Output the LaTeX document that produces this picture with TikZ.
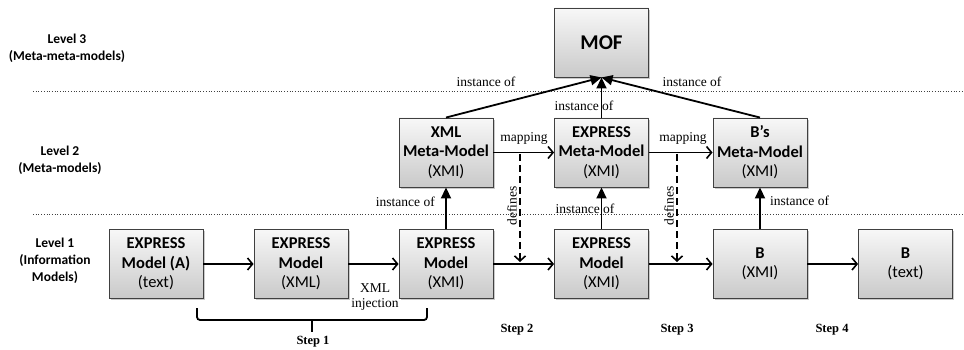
\documentclass[tikz,border=0pt]{standalone}
\usepackage{fontspec}
\setmainfont{Liberation Serif}
\newfontfamily\carl{Carlito}
\usetikzlibrary{arrows.meta,shadows,calc}
\begin{document}
\begin{tikzpicture}[x=1pt,y=-1pt,
  box/.style={draw=black!75, line width=0.9pt, minimum width=94pt, minimum height=69pt,
    inner sep=0pt, align=center, top color=gray!6, bottom color=gray!42,
    drop shadow={shadow xshift=1.6pt, shadow yshift=-1.6pt, fill=black!35, opacity=0.6},
    font=\carl\fontsize{16.5}{19.5}\selectfont},
  lvl/.style={align=center, font=\carl\bfseries\fontsize{13.5}{17}\selectfont},
  lbl/.style={font=\fontsize{13.5}{15}\selectfont, inner sep=1pt},
  steplbl/.style={font=\bfseries\fontsize{12.5}{14}\selectfont},
  inst/.style={line width=1.8pt, -{Triangle[length=11pt,width=10pt]}},
  flow/.style={line width=1.8pt, -{Straight Barb[length=5pt,width=12pt,line width=1.6pt]}},
  defl/.style={line width=1.8pt, dash pattern=on 7pt off 4pt, -{Straight Barb[length=5pt,width=11pt,line width=1.6pt]}},
  sep/.style={line width=0.7pt, dotted, black!75}]
\useasboundingbox (0,0) rectangle (964,350);

% separators
\coordinate (s1a) at (33,91); \coordinate (s1b) at (964,91);
\coordinate (s2a) at (33,214); \coordinate (s2b) at (964,214);
\draw[sep] (s1a) -- (s1b);
\draw[sep] (s2a) -- (s2b);

% level labels
\node[lvl] (l3) at (67,48) {Level 3\\(Meta-meta-models)};
\node[lvl] (l2) at (60,160) {Level 2\\(Meta-models)};
\node[lvl] (l1) at (55,261) {Level 1\\(Information\\Models)};

% boxes
\node[box, font=\carl\bfseries\fontsize{21}{24}\selectfont] (mof) at (601.5,42.5) {MOF};
\node[box] (xmlmm) at (446,152.5) {\textbf{XML}\\\textbf{Meta-Model}\\(XMI)};
\node[box] (emm) at (601.5,152.5) {\textbf{EXPRESS}\\\textbf{Meta-Model}\\(XMI)};
\node[box] (bmm) at (760,152.5) {\textbf{B’s}\\\textbf{Meta-Model}\\(XMI)};

\node[box] (e1) at (156,264) {\textbf{EXPRESS}\\\textbf{Model (A)}\\(text)};
\node[box] (e2) at (301,264) {\textbf{EXPRESS}\\\textbf{Model}\\(XML)};
\node[box] (e3) at (446,264) {\textbf{EXPRESS}\\\textbf{Model}\\(XMI)};
\node[box] (e4) at (601.5,264) {\textbf{EXPRESS}\\\textbf{Model}\\(XMI)};
\node[box] (b1) at (760,264) {\textbf{B}\\(XMI)};
\node[box] (b2) at (905.5,264) {\textbf{B}\\(text)};

% instance-of arrows
\draw[inst] (xmlmm.north) -- (mof.south);
\draw[inst] (emm.north) -- (mof.south);
\draw[inst] (bmm.north) -- (mof.south);
\draw[inst] (e3.north) -- (xmlmm.south);
\draw[inst] (e4.north) -- (emm.south);
\draw[inst] (b1.north) -- (bmm.south);

\node[lbl] (i1) at (486,82) {instance of};
\node[lbl] (i2) at (692,82) {instance of};
\node[lbl] (i3) at (584,106) {instance of};
\node[lbl, anchor=east] (i4) at (436,202) {instance of};
\node[lbl] (i5) at (585,209) {instance of};
\node[lbl, anchor=west] (i6) at (769,201) {instance of};

% mapping arrows
\draw[flow] (xmlmm) -- (emm);
\draw[flow] (emm) -- (bmm);
\node[lbl] (m1) at (524,138) {mapping};
\node[lbl] (m2) at (683,138) {mapping};

% level 1 flow
\draw[flow] (e1) -- (e2);
\draw[flow] (e2) -- (e3);
\draw[flow] (e3) -- (e4);
\draw[flow] (e4) -- (b1);
\draw[flow] (b1) -- (b2);

% defines
\coordinate (d1t) at (520,154); \coordinate (d1b) at (520,262);
\coordinate (d2t) at (677,154); \coordinate (d2b) at (677,262);
\draw[defl] (d1t) -- (d1b);
\draw[defl] (d2t) -- (d2b);
\node[lbl, rotate=90] (df1) at (512,206) {defines};
\node[lbl, rotate=90] (df2) at (669,206) {defines};

% XML injection
\node[lbl, align=center, font=\fontsize{13.5}{15}\selectfont] (xi) at (375,297) {XML\\injection};

% brace
\draw[line width=1.8pt, rounded corners=3pt] (197,308) -- (197,320) -- (427,320) -- (427,308);
\draw[line width=1.8pt] (312,320) -- (312,332);

% steps
\node[steplbl] (st1) at (313,342) {Step 1};
\node[steplbl] (st2) at (517,330) {Step 2};
\node[steplbl] (st3) at (677,330) {Step 3};
\node[steplbl] (st4) at (832,330) {Step 4};
\end{tikzpicture}
\end{document}
